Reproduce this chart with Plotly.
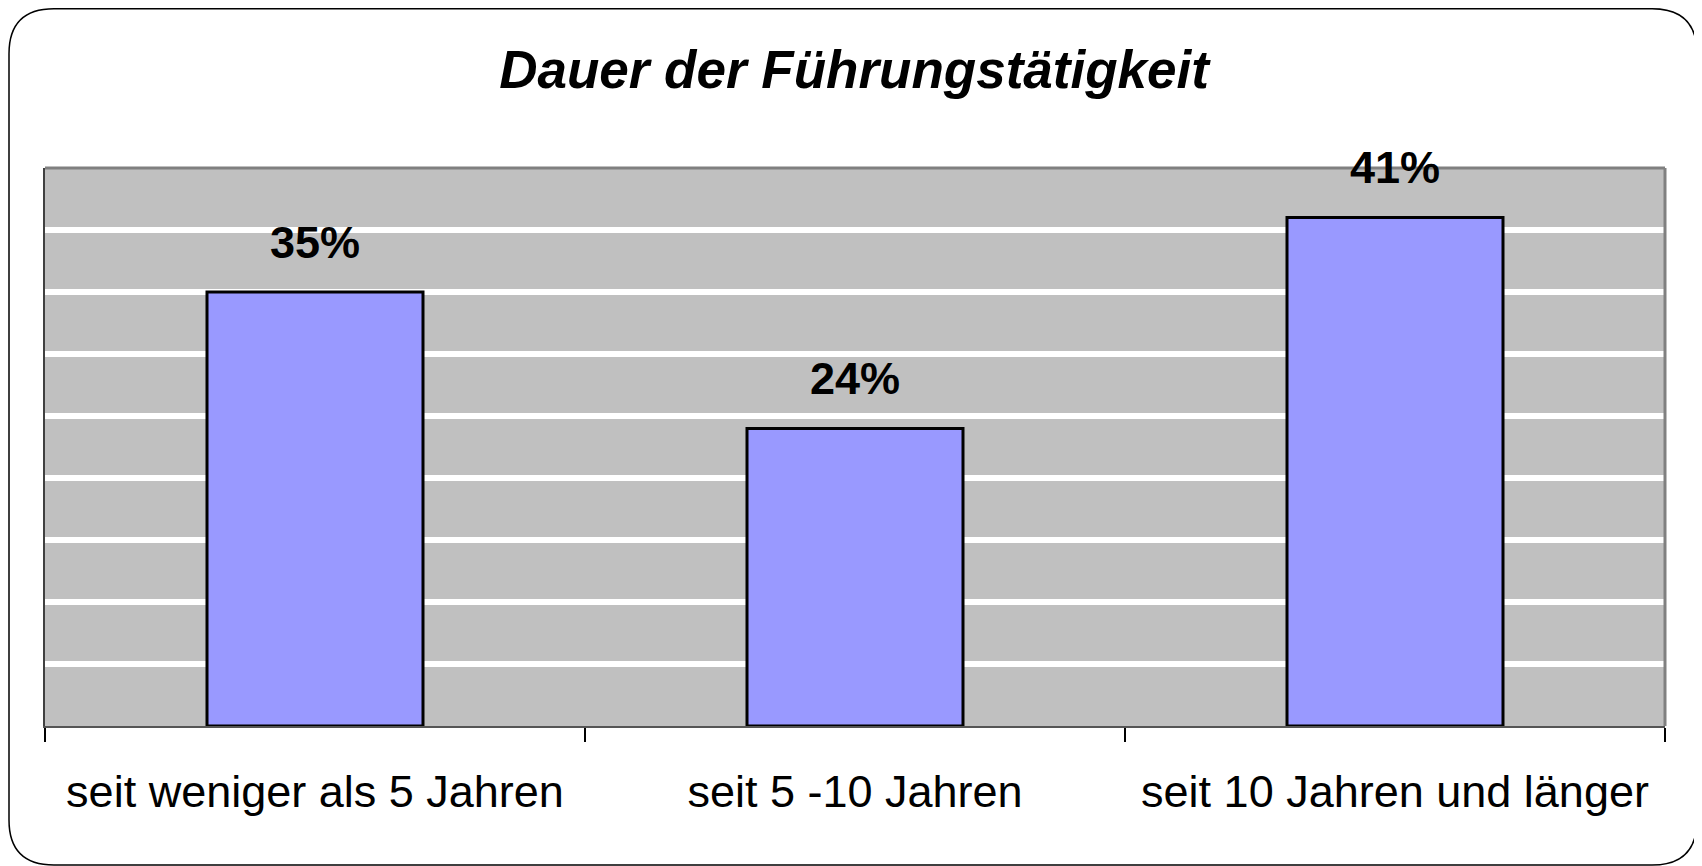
import plotly.graph_objects as go

categories = ["seit weniger als 5 Jahren", "seit 5 -10 Jahren", "seit 10 Jahren und länger"]
values = [35, 24, 41]
label_texts = ["35%", "24%", "41%"]
title_text = "Dauer der Führungstätigkeit"

# page has an 8px body margin, so figure coords = page coords - 8
W, H = 1694, 858
ML, MR, MT, MB = 37, 37, 160, 140
PW, PH = W - ML - MR, H - MT - MB

def fx(px):
    return (px - ML) / PW

def fy(py):
    return (H - MB - py) / PH

FONT = "Liberation Sans, Arial, sans-serif"

fig = go.Figure()
fig.add_trace(go.Bar(
    x=categories, y=values,
    marker=dict(color="#9999FF", line=dict(color="black", width=3)),
    hoverinfo="skip",
))

for c, v, t in zip(categories, values, label_texts):
    fig.add_annotation(x=c, y=v, text=f"<b>{t}</b>", showarrow=False,
                       yanchor="middle", yshift=50,
                       font=dict(family=FONT, size=45, color="black"))

# rounded outer frame
L, T, R, B, r = 1, 0.75, 1689, 857, 45
path = (f"M {fx(L + r)},{fy(T)} L {fx(R - r)},{fy(T)} Q {fx(R)},{fy(T)} {fx(R)},{fy(T + r)} "
        f"L {fx(R)},{fy(B - r)} Q {fx(R)},{fy(B)} {fx(R - r)},{fy(B)} "
        f"L {fx(L + r)},{fy(B)} Q {fx(L)},{fy(B)} {fx(L)},{fy(B - r)} "
        f"L {fx(L)},{fy(T + r)} Q {fx(L)},{fy(T)} {fx(L + r)},{fy(T)} Z")
shapes = [
    dict(type="path", xref="paper", yref="paper", path=path,
         line=dict(color="black", width=1.5), layer="below"),
    dict(type="line", xref="paper", yref="paper", x0=0, x1=1, y0=1, y1=1,
         line=dict(color="#808080", width=3)),
    dict(type="line", xref="paper", yref="paper", x0=1, x1=1, y0=0, y1=1,
         line=dict(color="#808080", width=3)),
]

fig.update_layout(
    width=W, height=H,
    margin=dict(l=ML, r=MR, t=MT, b=MB),
    paper_bgcolor="white", plot_bgcolor="#C0C0C0",
    bargap=0.6, showlegend=False,
    title=dict(text=f"<b><i>{title_text}</i></b>", x=846 / W, xanchor="center",
               y=1 - 61 / H, yanchor="middle", yref="container",
               font=dict(family=FONT, size=53, color="black")),
    shapes=shapes,
    xaxis=dict(showline=True, linecolor="#555555", linewidth=2,
               ticks="outside", tickson="boundaries", ticklen=14, tickcolor="black", tickwidth=1.5,
               tickfont=dict(family=FONT, size=45, color="black"),
               ticklabelstandoff=25, showgrid=False),
    yaxis=dict(range=[0, 45], dtick=5, showgrid=True, gridcolor="white", gridwidth=6,
               showticklabels=False, ticks="", zeroline=False,
               showline=True, linecolor="#404040", linewidth=2),
)

fig.write_html("out.html")
